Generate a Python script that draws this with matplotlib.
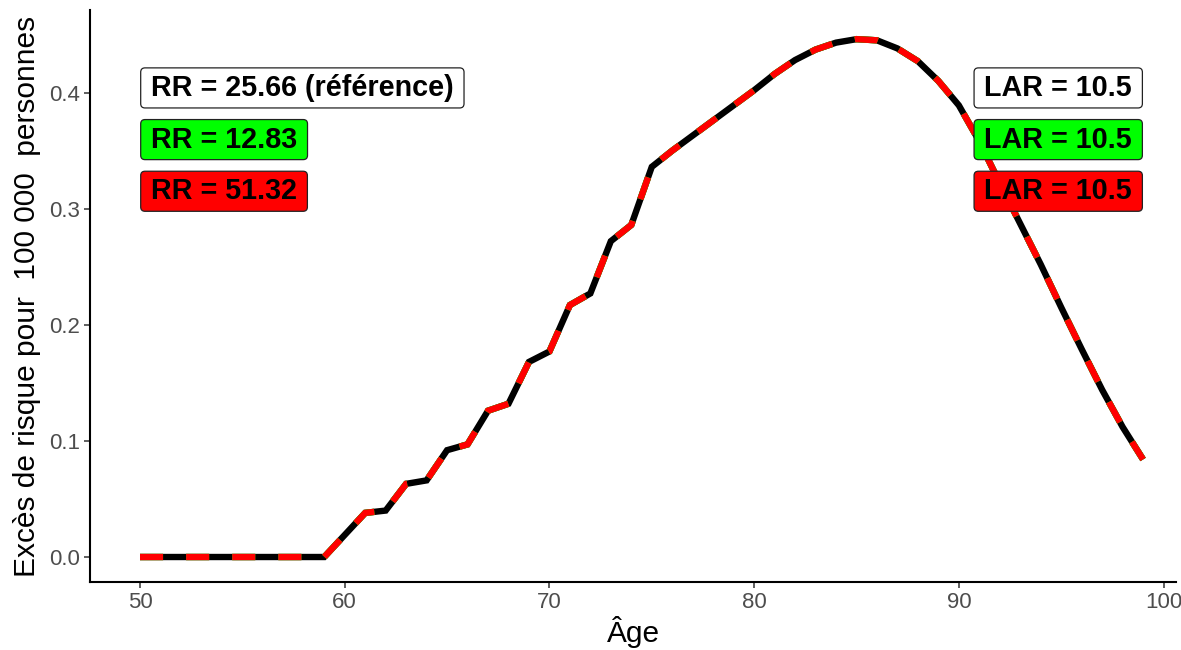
import matplotlib
matplotlib.use("Agg")
import matplotlib.pyplot as plt
from matplotlib.patches import BoxStyle

# ---- data ----
ages = list(range(50, 100))
risk_ref = [0, 0, 0, 0, 0, 0, 0, 0, 0, 0,
            0.019, 0.038, 0.040, 0.063, 0.066, 0.092, 0.097, 0.126, 0.132, 0.168,
            0.177, 0.217, 0.227, 0.272, 0.286, 0.336, 0.350, 0.363, 0.376, 0.389,
            0.402, 0.416, 0.428, 0.437, 0.443, 0.446, 0.445, 0.438, 0.427, 0.410,
            0.389, 0.358, 0.322, 0.287, 0.252, 0.215, 0.179, 0.144, 0.112, 0.084]
risk_low = [0, 0, 0, 0, 0, 0, 0, 0, 0, 0,
            0.019, 0.038, 0.040, 0.063, 0.066, 0.092, 0.097, 0.126, 0.132, 0.168,
            0.177, 0.217, 0.227, 0.272, 0.286, 0.336, 0.350, 0.363, 0.376, 0.389,
            0.402, 0.416, 0.428, 0.437, 0.443, 0.446, 0.445, 0.438, 0.427, 0.410,
            0.389, 0.358, 0.322, 0.287, 0.252, 0.215, 0.179, 0.144, 0.112, 0.084]
risk_high = [0, 0, 0, 0, 0, 0, 0, 0, 0, 0,
             0.019, 0.038, 0.040, 0.063, 0.066, 0.092, 0.097, 0.126, 0.132, 0.168,
             0.177, 0.217, 0.227, 0.272, 0.286, 0.336, 0.350, 0.363, 0.376, 0.389,
             0.402, 0.416, 0.428, 0.437, 0.443, 0.446, 0.445, 0.438, 0.427, 0.410,
             0.389, 0.358, 0.322, 0.287, 0.252, 0.215, 0.179, 0.144, 0.112, 0.084]

rr_labels = ["RR = 25.66 (référence)", "RR = 12.83", "RR = 51.32"]
lar_labels = ["LAR = 10.5", "LAR = 10.5", "LAR = 10.5"]
label_colors = ["white", "#00FF00", "#FF0000"]
label_y = [0.404, 0.3595, 0.315]
label_x_left = 50
label_x_right = 99

xticks = [50, 60, 70, 80, 90, 100]
yticks = [0.0, 0.1, 0.2, 0.3, 0.4]
ytick_labels = ["0.0", "0.1", "0.2", "0.3", "0.4"]

# ---- style ----
plt.rcParams['font.family'] = ['Liberation Sans', 'DejaVu Sans']
plt.rcParams['lines.scale_dashes'] = False

fig = plt.figure(figsize=(11.81, 6.5), dpi=100)
ax = fig.add_axes([0.0762, 0.1046, 0.9196, 0.880])

lw = 4.6
dash = (16.6, 16.6)
ax.plot(ages, risk_ref, color="black", lw=lw, solid_capstyle="butt", solid_joinstyle="miter", zorder=2)
l2, = ax.plot(ages, risk_low, color="#00FF00", lw=lw, zorder=3, dash_capstyle="butt", dash_joinstyle="miter")
l2.set_dashes(dash)
l3, = ax.plot(ages, risk_high, color="#FF0000", lw=lw, zorder=4, dash_capstyle="butt", dash_joinstyle="miter")
l3.set_dashes(dash)


class LabelBox:
    def __init__(self, padx, pady, r):
        self.padx, self.pady, self.r = padx, pady, r

    def __call__(self, x0, y0, width, height, mutation_size):
        px = self.padx * mutation_size
        py = self.pady * mutation_size
        return BoxStyle.Round(pad=0, rounding_size=self.r)(
            x0 - px, y0 - py, width + 2 * px, height + 2 * py, mutation_size)


fs = 20.7
padx, pady = 0.36, 0.21
off = padx * fs + 0.5
for txt, c, y in zip(rr_labels, label_colors, label_y):
    ax.annotate(txt, xy=(label_x_left, y), xytext=(off, 0), textcoords="offset points",
                ha="left", va="center", fontsize=fs, fontweight="bold", color="black",
                bbox=dict(boxstyle=LabelBox(padx, pady, 0.15), fc=c, ec="#222222", lw=0.9),
                zorder=6)
for txt, c, y in zip(lar_labels, label_colors, label_y):
    ax.annotate(txt, xy=(label_x_right, y), xytext=(-off, 0), textcoords="offset points",
                ha="right", va="center", fontsize=fs, fontweight="bold", color="black",
                bbox=dict(boxstyle=LabelBox(padx, pady, 0.15), fc=c, ec="#222222", lw=0.9),
                zorder=6)

ax.set_xlim(47.557, 100.61)
ax.set_ylim(-0.02153, 0.4711)
ax.set_xticks(xticks)
ax.set_yticks(yticks)
ax.set_yticklabels(ytick_labels)

for s in ["top", "right"]:
    ax.spines[s].set_visible(False)
for s in ["left", "bottom"]:
    ax.spines[s].set_linewidth(1.5)
    ax.spines[s].set_color("black")

ax.tick_params(axis="both", which="major", length=4, width=1.1, color="#333333",
               labelsize=16, labelcolor="#4D4D4D", pad=3)

ax.set_xlabel("Âge", fontsize=21.5, color="black", labelpad=2)
ax.set_ylabel("Excès de risque pour  100 000  personnes", fontsize=21.5, color="black", labelpad=6)

fig.savefig("out.png", dpi=100)
